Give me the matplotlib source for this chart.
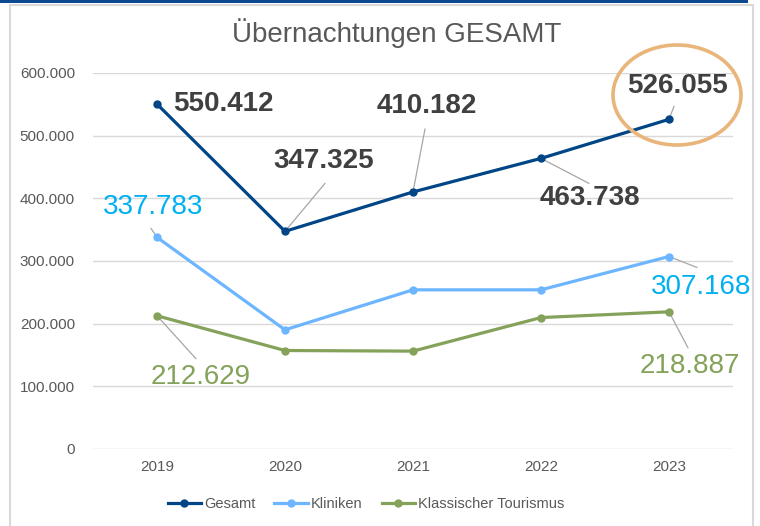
import matplotlib.pyplot as plt
from matplotlib.patches import Ellipse, Rectangle
from matplotlib.lines import Line2D

plt.rcParams['font.family'] = ['Liberation Sans', 'DejaVu Sans']

years = ["2019", "2020", "2021", "2022", "2023"]
gesamt = [550412, 347325, 410182, 463738, 526055]
kliniken = [337783, 190157, 254000, 254000, 307168]
tourismus = [212629, 157168, 156182, 209738, 218887]

def de(v):
    return f"{v:,}".replace(",", ".")

c_ges = "#004586"
c_kli = "#6DB6FF"
c_tou = "#84A25A"
txtgray = "#595959"

fig = plt.figure(figsize=(7.6, 5.26), dpi=100)
ax = fig.add_axes([93/760, 1-449/526, 640/760, 376/526])

x = list(range(len(years)))
ax.plot(x, gesamt, color=c_ges, lw=2.3, marker="o", ms=5, label="Gesamt", zorder=3)
ax.plot(x, kliniken, color=c_kli, lw=2.3, marker="o", ms=5, label="Kliniken", zorder=3)
ax.plot(x, tourismus, color=c_tou, lw=2.3, marker="o", ms=5, label="Klassischer Tourismus", zorder=3)

ax.set_xlim(-0.5, 4.5)
ax.set_ylim(0, 600000)
ax.set_yticks(range(0, 600001, 100000))
ax.set_yticklabels([de(v) for v in range(0, 600001, 100000)])
ax.set_xticks(x)
ax.set_xticklabels(years)
ax.tick_params(length=0, colors=txtgray, labelsize=11)
ax.tick_params(axis="y", pad=13)
ax.tick_params(axis="x", pad=8)
ax.yaxis.grid(True, color="#D9D9D9", lw=1)
ax.set_axisbelow(True)
for s in ax.spines.values():
    s.set_visible(False)

# labels: (series, index, text offset, leader end offset or None, color, bold)
labs = [
    (gesamt, 0, (66, 0), None, "#404040", True),
    (gesamt, 1, (39, 70), (40, 48), "#404040", True),
    (gesamt, 2, (14, 86), (12, 63), "#404040", True),
    (gesamt, 3, (49, -40), (48, -25), "#404040", True),
    (gesamt, 4, (8, 33), (5, 13), "#404040", True),
    (kliniken, 0, (-4, 30), (-6, 9), "#00B0F0", False),
    (kliniken, 4, (32, -30), (28, -11), "#00B0F0", False),
    (tourismus, 0, (44, -61), (39, -43), c_tou, False),
    (tourismus, 4, (21, -54), (19, -36), c_tou, False),
]
for ser, i, off, lead, col, bold in labs:
    if lead:
        ax.annotate("", xy=(i, ser[i]), xytext=lead, textcoords="offset pixels",
                    arrowprops=dict(arrowstyle="-", color="#A6A6A6", lw=0.9,
                                    shrinkA=0, shrinkB=0), zorder=2)
    ax.annotate(de(ser[i]), xy=(i, ser[i]), xytext=off, textcoords="offset pixels",
                ha="center", va="center", fontsize=20, color=col,
                fontweight="bold" if bold else "normal", zorder=4)

fig.text(397/760, 1-33/526, "Übernachtungen GESAMT", ha="center", va="center",
         fontsize=20, color=txtgray)

handles = [Line2D([], [], color=c, lw=2.3, marker="o", ms=5) for c in (c_ges, c_kli, c_tou)]
fig.legend(handles, ["Gesamt", "Kliniken", "Klassischer Tourismus"], loc="center",
           bbox_to_anchor=(366/760, 1-504/526), ncol=3, frameon=False, fontsize=10.5,
           labelcolor=txtgray, handlelength=2.3, handletextpad=0.2, columnspacing=1.3)

# slide frame and top line
fig.patches.append(Rectangle((9.5/760, -0.05), 743/760, 1.05-5/526, transform=fig.transFigure,
                             fill=False, ec="#D9D9D9", lw=1.5))
fig.patches.append(Rectangle((0, 1-2.5/526), 748/760, 2.5/526, transform=fig.transFigure,
                             color="#0B4A8F", lw=0))
fig.patches.append(Ellipse((677/760, 1-95/526), 128/760, 100/526, transform=fig.transFigure,
                           fill=False, ec="#E9B57A", lw=2.6))

fig.savefig("out.png", dpi=100)
